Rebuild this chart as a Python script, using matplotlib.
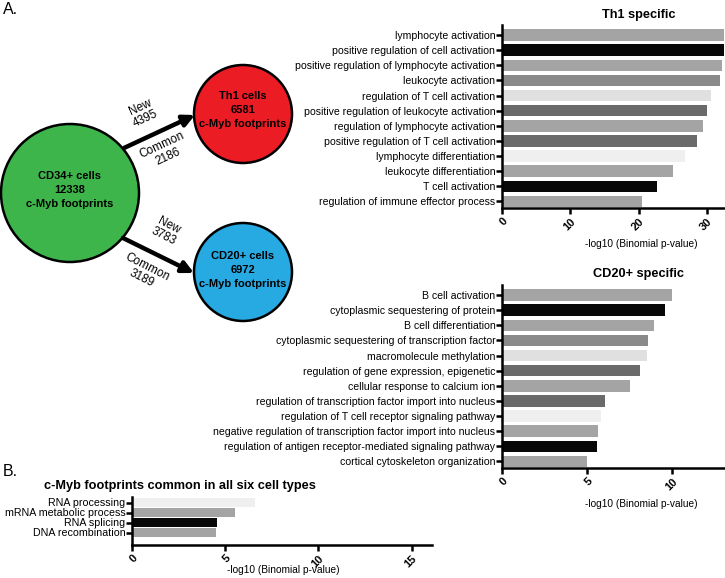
import matplotlib
matplotlib.use("Agg")
import matplotlib.pyplot as plt
from matplotlib.patches import Circle, FancyArrowPatch

plt.rcParams["font.family"] = ["Liberation Sans", "DejaVu Sans"]

# ---- data -------------------------------------------------------------
th1_terms = [
    "lymphocyte activation",
    "positive regulation of cell activation",
    "positive regulation of lymphocyte activation",
    "leukocyte activation",
    "regulation of T cell activation",
    "positive regulation of leukocyte activation",
    "regulation of lymphocyte activation",
    "positive regulation of T cell activation",
    "lymphocyte differentiation",
    "leukocyte differentiation",
    "T cell activation",
    "regulation of immune effector process",
]
th1_values = [32.5, 32.4, 32.2, 31.8, 30.5, 30.0, 29.4, 28.5, 26.8, 25.0, 22.7, 20.4]

cd20_terms = [
    "B cell activation",
    "cytoplasmic sequestering of protein",
    "B cell differentiation",
    "cytoplasmic sequestering of transcription factor",
    "macromolecule methylation",
    "regulation of gene expression, epigenetic",
    "cellular response to calcium ion",
    "regulation of transcription factor import into nucleus",
    "regulation of T cell receptor signaling pathway",
    "negative regulation of transcription factor import into nucleus",
    "regulation of antigen receptor-mediated signaling pathway",
    "cortical cytoskeleton organization",
]
cd20_values = [10.0, 9.6, 8.9, 8.6, 8.5, 8.1, 7.5, 6.05, 5.8, 5.65, 5.6, 5.0]

common_terms = ["RNA processing", "mRNA metabolic process", "RNA splicing", "DNA recombination"]
common_values = [6.6, 5.55, 4.55, 4.5]

# cell counts for the diagram
cd34_total = 12338
th1_total, th1_new, th1_common = 6581, 4395, 2186
cd20_total, cd20_new, cd20_common = 6972, 3783, 3189

# bar shades (Prism-like grey cycle)
GRAY, BLACK, MID, LIGHT, DARK, VLIGHT = "#a4a4a4", "#080808", "#8a8a8a", "#e0e0e0", "#6a6a6a", "#efefef"
shade_cycle = [GRAY, BLACK, GRAY, MID, LIGHT, DARK, GRAY, DARK, VLIGHT, GRAY, BLACK, GRAY]
common_shades = [VLIGHT, GRAY, BLACK, GRAY]

W, H = 725, 578
fig = plt.figure(figsize=(W / 100, H / 100), dpi=100)


def px_axes(left, top, right, bottom):
    return fig.add_axes([left / W, 1 - bottom / H, (right - left) / W, (bottom - top) / H])


def bar_panel(ax, terms, values, colors, xmax, xticks, ylim, height, label_size):
    ypos = list(range(len(terms)))
    ax.barh(ypos, values, height=height, color=colors, edgecolor="none", zorder=2)
    ax.set_ylim(*ylim)
    ax.set_xlim(0, xmax)
    ax.set_yticks(ypos)
    ax.set_yticklabels(terms, fontsize=label_size)
    ax.set_xticks(xticks)
    ax.set_xticklabels([str(t) for t in xticks], rotation=45, ha="right", va="top",
                       rotation_mode="anchor", fontsize=8, fontweight="bold")
    for side in ("top", "right"):
        ax.spines[side].set_visible(False)
    for side in ("left", "bottom"):
        ax.spines[side].set_linewidth(1.8)
    ax.tick_params(axis="y", length=4.5, width=1.8, pad=0.3)
    ax.tick_params(axis="x", length=4, width=1.8, pad=2)
    ax.set_xlabel("-log10 (Binomial p-value)", fontsize=7.3)
    ax.patch.set_alpha(0)


# ---- Th1 specific -----------------------------------------------------
ax1 = px_axes(502, 25, 725, 208)
bar_panel(ax1, th1_terms, th1_values, shade_cycle, 32.6, [0, 10, 20, 30],
          (11.43, -0.66), 0.76, 7.6)
ax1.xaxis.set_label_coords(0.625, -0.17)
ax1.set_title("Th1 specific", fontsize=9.2, fontweight="bold", x=0.615, pad=5)

# ---- CD20+ specific ---------------------------------------------------
ax2 = px_axes(502, 285, 725, 468)
bar_panel(ax2, cd20_terms, cd20_values, shade_cycle, 13.1, [0, 5, 10],
          (11.43, -0.66), 0.76, 7.6)
ax2.xaxis.set_label_coords(0.625, -0.17)
ax2.set_title("CD20+ specific", fontsize=9.2, fontweight="bold", x=0.61, pad=6)

# ---- common to all six ------------------------------------------------
ax3 = px_axes(132, 497, 432, 545)
bar_panel(ax3, common_terms, common_values, common_shades, 16.1, [0, 5, 10, 15],
          (4.25, -0.55), 0.9, 7.7)
ax3.xaxis.set_label_coords(0.503, -0.42)
ax3.set_title("c-Myb footprints common in all six cell types", fontsize=9.2,
              fontweight="bold", x=0.16, pad=6)

# ---- diagram ----------------------------------------------------------
dg = fig.add_axes([0, 0, 1, 1], zorder=-1)
dg.set_xlim(0, W)
dg.set_ylim(H, 0)
dg.axis("off")

dg.text(3, 9, "A.", fontsize=11.5, va="center")
dg.text(3, 471, "B.", fontsize=11.5, va="center")

cells = [
    ((70, 193), 69, "#3db54a", "CD34+ cells", cd34_total, 190),
    ((243, 114), 49, "#ec1c24", "Th1 cells", th1_total, 110),
    ((243, 272), 49, "#27a9e1", "CD20+ cells", cd20_total, 270),
]
for (cx, cy), r, col, name, total, ty in cells:
    dg.add_patch(Circle((cx, cy), r, facecolor=col, edgecolor="black", lw=1.8))
    dg.text(cx, ty, f"{name}\n{total}\nc-Myb footprints", ha="center", va="center",
            fontsize=8, fontweight="bold", linespacing=1.45)

for start, end in [((124, 148), (195, 115)), ((123, 238), (194, 273))]:
    dg.add_patch(FancyArrowPatch(start, end, arrowstyle="-|>", mutation_scale=17,
                                 lw=3.2, color="black", shrinkA=0, shrinkB=0))

label_kw = dict(ha="center", va="center", fontsize=8.5, linespacing=1.05)
dg.text(143, 113, f"New\n{th1_new}", rotation=25, **label_kw)
dg.text(165, 151, f"Common\n{th1_common}", rotation=25, **label_kw)
dg.text(166, 231, f"New\n{cd20_new}", rotation=-27, **label_kw)
dg.text(144, 273, f"Common\n{cd20_common}", rotation=-27, **label_kw)

fig.savefig("out.png", dpi=100)
